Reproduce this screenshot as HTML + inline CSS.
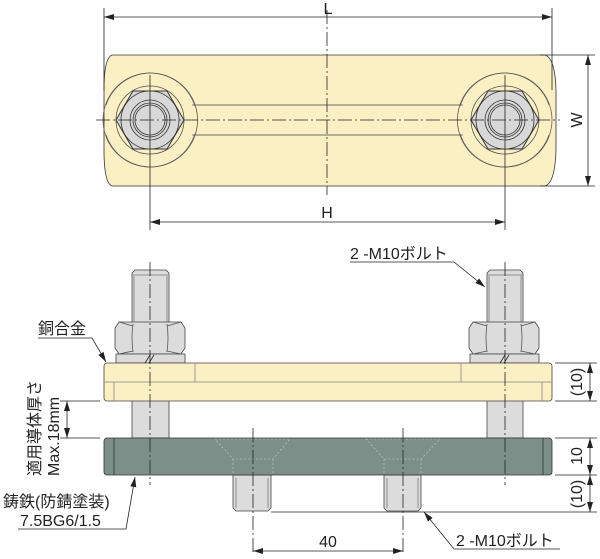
<!DOCTYPE html>
<html><head><meta charset="utf-8"><style>
html,body{margin:0;padding:0;background:#fff;width:600px;height:559px;overflow:hidden}
svg text{font-family:"Liberation Sans","Noto Sans CJK JP",sans-serif;fill:#222}
</style></head><body>
<svg width="600" height="559" viewBox="0 0 600 559" xmlns="http://www.w3.org/2000/svg">
<defs>
<marker id="a" viewBox="0 0 10 6" refX="10" refY="3" markerWidth="10" markerHeight="6" orient="auto-start-reverse" markerUnits="userSpaceOnUse"><path d="M0,0 L10,3 L0,6 z" fill="#222"/></marker>
<g id="nutTop">
<path d="M-44,-15 A47,47 0 1,1 -44,15" fill="none" stroke="#555" stroke-width="0.8"/>
<circle r="34" fill="none" stroke="#555" stroke-width="0.8"/>
<polygon points="-34,0 -17,-29 17,-29 34,0 17,29 -17,29" fill="#d8d8d8" stroke="#333" stroke-width="1"/>
<circle r="29" fill="#d8d8d8" stroke="#333" stroke-width="0.8"/>
<circle r="20" fill="none" stroke="#333" stroke-width="0.8"/>
<circle r="17" fill="none" stroke="#333" stroke-width="0.8"/>
<circle r="15" fill="#d8d8d8" stroke="#333" stroke-width="0.8"/>
</g>
</defs>
<g stroke="#222" stroke-width="0.8" fill="none">
<path d="M112,55 H545 Q555,58 556,90 V150 Q555,183 545,186 H112 Q104,183 104,150 V90 Q104,58 112,55 Z" fill="#fbefc4" stroke="#333"/>
<path d="M150,120 m-47,0 a47,47 0 1,1 0,0" stroke="none"/>
<path d="M194,105 H461 M194,135 H461" stroke="#666"/>
<circle cx="150" cy="120" r="47" stroke="#666"/>
<circle cx="505" cy="120" r="47" stroke="#666"/>
<rect x="190" y="106" width="275" height="28" fill="#fbefc4" stroke="none"/>
<path d="M192,105 H463 M192,135 H463" stroke="#666"/>
<use href="#nutTop" x="150" y="120"/>
<g transform="translate(505,120) scale(-1,1)"><use href="#nutTop"/></g>
<line x1="96" y1="120" x2="560" y2="120" stroke-dasharray="14,3,2,3"/>
<line x1="327" y1="10" x2="327" y2="195" stroke-dasharray="14,3,2,3"/>
<line x1="150" y1="75" x2="150" y2="230"/>
<line x1="505" y1="75" x2="505" y2="230"/>
<line x1="104" y1="8" x2="104" y2="90"/>
<line x1="552" y1="8" x2="552" y2="90"/>
<line x1="104" y1="17" x2="552" y2="17" marker-start="url(#a)" marker-end="url(#a)"/>
<line x1="150" y1="222" x2="505" y2="222" marker-start="url(#a)" marker-end="url(#a)"/>
<line x1="540" y1="55" x2="595" y2="55"/>
<line x1="540" y1="186" x2="595" y2="186"/>
<line x1="588" y1="55" x2="588" y2="186" marker-start="url(#a)" marker-end="url(#a)"/>

<g fill="#dcdcdc" stroke="#444">
<path d="M132,273 l3,-3 h31 l3,3 V438 H132 Z"/>
<path d="M487,273 l3,-3 h30 l3,3 V438 H487 Z"/>
<path d="M115,328 l4,-6 h62 l4,6 V348 l-4,6 h-62 l-4,-6 Z"/>
<path d="M469,328 l4,-6 h62 l4,6 V348 l-4,6 h-62 l-4,-6 Z"/>
<rect x="116" y="354" width="69" height="9"/>
<rect x="470" y="354" width="69" height="9"/>
<path d="M233,475 V508 l3,3 h32 l3,-3 V475 Z"/>
<path d="M384,475 V508 l3,3 h31 l3,-3 V475 Z"/>
</g>
<path d="M134,276 V322 M167,276 V322 M489,276 V322 M521,276 V322 M132,275 H169 M487,275 H523" stroke="#777"/>
<path d="M133,324 q-2,14 0,28 M167,324 q2,14 0,28 M487,324 q-2,14 0,28 M521,324 q2,14 0,28 M119,322 q14,4 14,4 M181,322 q-14,4 -14,4 M473,322 l14,4 M535,322 l-14,4 M119,354 l14,-3 M181,354 l-14,-3 M473,354 l14,-3 M535,354 l-14,-3" stroke="#555"/>
<path d="M236,478 V508 M268,478 V508 M387,478 V508 M418,478 V508" stroke="#777"/>
<rect x="104" y="363" width="448" height="38" rx="3" fill="#fbefc4" stroke="#444"/>
<line x1="104" y1="382" x2="552" y2="382" stroke="#888"/>
<line x1="114" y1="382" x2="114" y2="401" stroke="#888"/>
<line x1="195" y1="363" x2="195" y2="382" stroke="#888"/>
<line x1="461" y1="363" x2="461" y2="382" stroke="#888"/>
<line x1="542" y1="382" x2="542" y2="401" stroke="#888"/>
<rect x="104" y="438" width="448" height="37" rx="3" fill="#7d8f89" stroke="#333"/>
<line x1="114" y1="438" x2="114" y2="475" stroke="#333"/>
<line x1="543" y1="438" x2="543" y2="475" stroke="#333"/>
<path d="M215,439 H290 L273,459 H233 Z M233,459 V475 M273,459 V475 M366,439 H440 L421,459 H384 Z M384,459 V475 M421,459 V475" stroke="#bbb" stroke-dasharray="2,2"/>
<g stroke-dasharray="14,3,2,3">
<line x1="150" y1="262" x2="150" y2="485"/>
<line x1="505" y1="262" x2="505" y2="485"/>
<line x1="253" y1="428" x2="253" y2="555"/>
<line x1="403" y1="428" x2="403" y2="555"/>
</g>
<path d="M145,363 l5,-8 M149,363 l5,-8 M500,363 l5,-8 M504,363 l5,-8"/>
<line x1="555" y1="363" x2="597" y2="363"/>
<line x1="555" y1="401" x2="597" y2="401"/>
<line x1="555" y1="438" x2="597" y2="438"/>
<line x1="555" y1="475" x2="597" y2="475"/>
<line x1="271" y1="512" x2="597" y2="512"/>
<line x1="590" y1="363" x2="590" y2="401" marker-start="url(#a)" marker-end="url(#a)"/>
<line x1="590" y1="438" x2="590" y2="475" marker-start="url(#a)" marker-end="url(#a)"/>
<line x1="590" y1="475" x2="590" y2="512" marker-start="url(#a)" marker-end="url(#a)"/>
<line x1="60" y1="401" x2="100" y2="401"/>
<line x1="60" y1="438" x2="100" y2="438"/>
<line x1="67" y1="401" x2="67" y2="438" marker-start="url(#a)" marker-end="url(#a)"/>
<line x1="253" y1="551" x2="403" y2="551" marker-start="url(#a)" marker-end="url(#a)"/>
<path d="M38,338 H92 L106,362" marker-end="url(#a)"/>
<path d="M350,262 H454 L485,287" marker-end="url(#a)"/>
<path d="M18,529 H126 L135,477" marker-end="url(#a)"/>
<path d="M560,549 H454 L424,512" marker-end="url(#a)"/>
</g>
<g font-size="16">
<text x="328" y="14" text-anchor="middle">L</text>
<text x="327" y="218" text-anchor="middle">H</text>
<text transform="translate(578,120) rotate(-90)" text-anchor="middle" dominant-baseline="middle">W</text>
<text x="350" y="259">2 -M10ボルト</text>
<text x="38" y="334">銅合金</text>
<text x="3" y="507">鋳鉄(防錆塗装)</text>
<text x="20" y="526">7.5BG6/1.5</text>
<text x="456" y="546">2 -M10ボルト</text>
<text x="328" y="547" text-anchor="middle">40</text>
<text transform="translate(40,476) rotate(-90)">適用導体厚さ</text>
<text transform="translate(59,476) rotate(-90)">Max.18mm</text>
<text transform="translate(578,382) rotate(-90)" text-anchor="middle" dominant-baseline="middle">(10)</text>
<text transform="translate(578,456) rotate(-90)" text-anchor="middle" dominant-baseline="middle">10</text>
<text transform="translate(578,494) rotate(-90)" text-anchor="middle" dominant-baseline="middle">(10)</text>
</g>
</svg>
</body></html>
